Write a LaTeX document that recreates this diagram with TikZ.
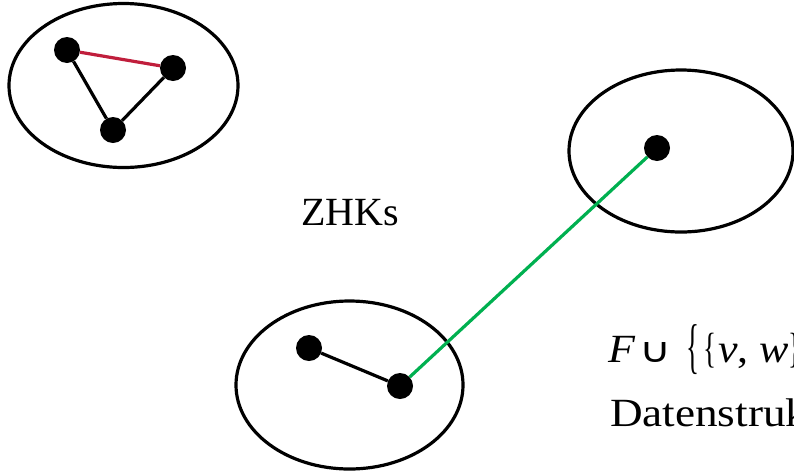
\documentclass[tikz,border=0pt]{standalone}
\usepackage{fontspec}
\usepackage{graphicx}
\setmainfont{Liberation Serif}
\newfontfamily\symfnt{DejaVu Sans}
\usetikzlibrary{shapes.geometric}
\definecolor{edgered}{RGB}{192,30,60}
\definecolor{edgegreen}{RGB}{0,176,80}
\begin{document}
\begin{tikzpicture}[x=1pt,y=-1pt,
  comp/.style={draw=black, ellipse, line width=3.2pt, inner sep=0pt},
  vtx/.style={circle, fill=black, minimum size=26pt, inner sep=0pt},
  edge/.style={line width=3.2pt, black},
  lbl/.style={font=\fontsize{40}{48}\selectfont, inner sep=0pt, outer sep=0pt}]
\useasboundingbox (0,0) rectangle (794,472);
\clip (0,0) rectangle (794,472);
% components
\node[comp, minimum width=229pt, minimum height=164pt] (c1) at (123.5,85.5) {};
\node[comp, minimum width=224pt, minimum height=162pt] (c2) at (681,151) {};
\node[comp, minimum width=227pt, minimum height=168pt] (c3) at (349.5,385) {};
% vertices
\node[vtx] (a) at (67,50) {};
\node[vtx] (b) at (173,68) {};
\node[vtx] (c) at (113,130) {};
\node[vtx] (d) at (657,148) {};
\node[vtx] (e) at (309,348) {};
\node[vtx] (f) at (400,386) {};
% edges
\draw[edge, edgered] (a) -- (b);
\draw[edge] (a) -- (c);
\draw[edge] (c) -- (b);
\draw[edge] (e) -- (f);
\draw[edge, edgegreen] (f) -- (d);
% labels
\node[lbl, anchor=base] (zhk) at (350,225) {ZHKs};
\node[lbl, anchor=base west] (fF) at (608,362) {\addfontfeature{FakeStretch=1.1}\textit{F}};
\node[lbl, anchor=south west] (fcup) at (639,362) {\symfnt\resizebox*{32pt}{20pt}{∪}};
\node[lbl, anchor=south west] (fbo) at (686,375) {\resizebox*{13pt}{50pt}{\{}};
\node[lbl, anchor=south west] (fbi) at (703,368) {\resizebox*{13pt}{35pt}{\{}};
\node[lbl, anchor=base west] (fvw) at (718,362) {\addfontfeature{FakeStretch=1.1}\textit{v}, \textit{w}\resizebox*{13pt}{35pt}{\}}\resizebox*{13pt}{50pt}{\}}};
\node[lbl, anchor=base west] (ds) at (610,426) {\addfontfeature{FakeStretch=1.13}Datenstruk};
\end{tikzpicture}
\end{document}
